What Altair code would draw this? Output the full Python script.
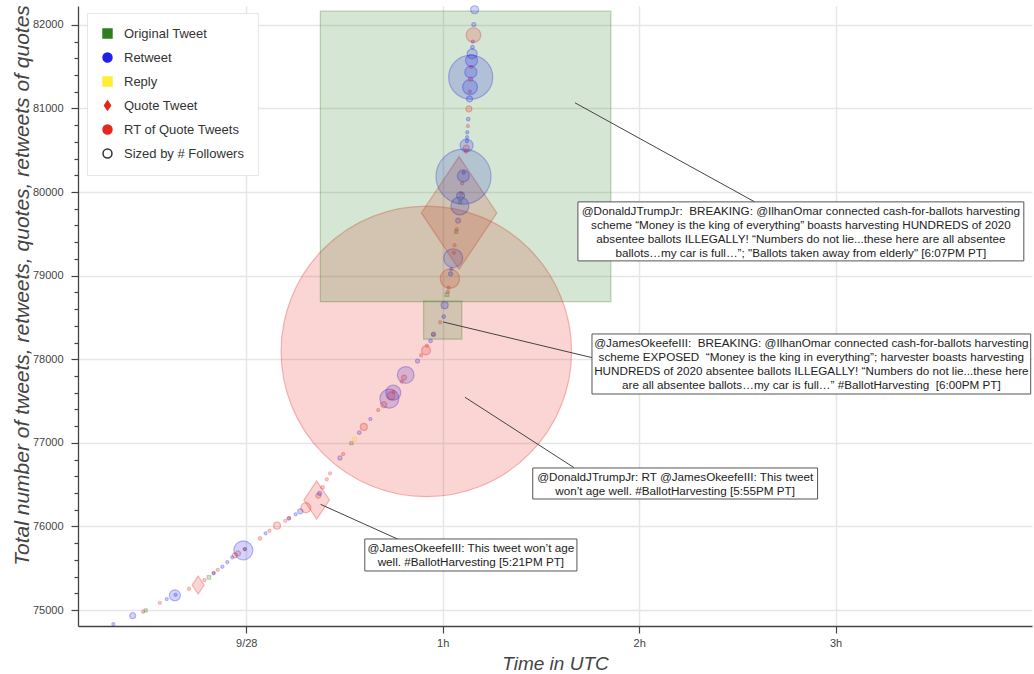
import altair as alt
import pandas as pd

# Tweet activity around the #BallotHarvesting story.
# minutes: minutes after 2020-09-28 00:00 UTC; totals: running count of tweets,
# retweets, quotes and retweets of quotes; kinds: event type code; followers: author's followers.
minutes = [-40.6, -34.7, -31.5, -30.7, -26.4, -24.3, -21.8, -21.6, -17.5, -14.7,
           -12.8, -11.4, -10.0, -9.9, -8.7, -7.3, -5.8, -4.3, -3.5, -2.5,
           -0.9, -0.5, -0.4, 4.2, 5.9, 7.1, 9.4, 11.9, 13.0, 13.1,
           15.1, 16.5, 18.2, 21.5, 22.0, 22.4, 23.3, 24.6, 25.6, 28.6,
           29.6, 32.1, 33.0, 34.5, 35.9, 37.9, 40.3, 42.0, 43.7, 44.2,
           44.9, 45.0, 47.5, 48.2, 48.7, 52.3, 53.4, 55.0, 54.9, 55.2,
           56.3, 57.1, 57.2, 59.2, 60.0, 60.3, 60.6, 61.3, 61.6, 61.8,
           62.2, 62.4, 62.6, 63.2, 63.4, 63.6, 64.1, 64.3, 64.7, 65.0,
           65.25, 65.35, 65.45, 65.65, 65.95, 66.35, 66.3, 66.4, 67.0, 67.1,
           67.2, 67.3, 67.4, 67.45, 67.5, 67.7, 67.8, 68.0, 68.2, 68.3,
           68.35, 68.5, 68.55, 68.6, 68.7, 68.8, 69.0, 69.1, 69.2, 69.4,
           69.5, 69.75]
totals = [74832, 74932, 74980, 74996, 75087, 75132, 75176, 75182, 75255, 75299,
          75359, 75391, 75439, 75445, 75482, 75518, 75574, 75630, 75654, 75678,
          75714, 75726, 75730, 75858, 75918, 75949, 76009, 76068, 76097, 76100,
          76145, 76181, 76224, 76316, 76368, 76396, 76468, 76564, 76636, 76819,
          76867, 76995, 77042, 77121, 77190, 77285, 77393, 77456, 77528, 77561,
          77600, 77610, 77732, 77780, 77812, 77979, 78048, 78093, 78105, 78163,
          78219, 78295, 78300, 78443, 78468, 78510, 78646, 78773, 78809, 78857,
          78964, 79021, 79080, 79208, 79275, 79364, 79523, 79555, 79658, 79750,
          79834, 79878, 79954, 79981, 80106, 80185, 80193, 80233, 80426, 80484,
          80525, 80556, 80608, 80656, 80716, 80791, 80872, 80995, 81114, 81202,
          81254, 81350, 81374, 81434, 81494, 81573, 81653, 81733, 81800, 81877,
          82004, 82180]
kinds = ["B", "B", "R", "O", "R", "B", "B", "B", "R", "Q",
         "R", "O", "B", "R", "R", "B", "B", "B", "R", "R",
         "B", "R", "B", "R", "B", "R", "R", "R", "B", "R",
         "B", "B", "R", "Q", "R", "B", "R", "R", "R", "B",
         "R", "O", "Y", "B", "R", "B", "R", "R", "B", "R",
         "B", "R", "R", "R", "B", "B", "R", "R", "R", "R",
         "B", "R", "B", "R", "O", "B", "B", "O", "R", "R",
         "R", "B", "B", "B", "R", "R", "O", "R", "B", "Q",
         "B", "O", "B", "R", "R", "B", "B", "B", "O", "R",
         "R", "B", "B", "B", "B", "R", "B", "R", "B", "R",
         "B", "R", "B", "B", "R", "B", "B", "B", "B", "R",
         "B", "B"]
followers = [5000, 100000, 5000, 5000, 5000, 5000, 204000, 5000, 5000, 342000,
             5000, 35000, 5000, 5000, 5000, 5000, 5000, 5000, 77000, 77000,
             361000, 5000, 5000, 35000, 5000, 5000, 122000, 5000, 35000, 5000,
             5000, 77000, 184000, 732000, 77000, 51000, 35000, 5000, 5000, 51000,
             5000, 5000, 51000, 35000, 122000, 5000, 5000, 100000, 361000, 143000,
             283000, 5000, 5000, 77000, 316000, 51000, 5000, 5590000, 163000, 5000,
             35000, 35000, 51000, 5000, 732000, 35000, 122000, 35000, 5000, 5000,
             367000, 51000, 5000, 361000, 5000, 5000, 5000, 5000, 77000, 2168000,
             342000, 5000, 143000, 5000, 5000, 1057000, 224000, 5000, 5590000, 5000,
             100000, 243000, 5000, 5000, 5000, 5000, 35000, 100000, 100000, 5000,
             283000, 51000, 845000, 224000, 5000, 224000, 184000, 35000, 5000, 277000,
             51000, 143000]

kind_names = {"O": "Original Tweet", "B": "Retweet", "Y": "Reply",
              "Q": "Quote Tweet", "R": "RT of Quote Tweets"}

type_names = ["Original Tweet", "Retweet", "Reply", "Quote Tweet",
              "RT of Quote Tweets", "Sized by # Followers"]
fill_colors = ["#2e7d1e", "#1f1fe8", "#ffee33", "#e4261c", "#e4261c", "white"]
stroke_colors = ["#2e7d1e", "#1f1fe8", "#ffee33", "#e4261c", "#e4261c", "#333333"]
DIAMOND = "M0,-1L0.67,0L0,1L-0.67,0Z"
shapes = ["square", "circle", "square", DIAMOND, "circle", "circle"]

# Call-out boxes: left/right in minutes, top/bottom in running total
note_x1 = [101.3, 105.6, 87.5, 36.2]
note_x2 = [237.5, 239.6, 174.5, 101.0]
note_top = [79882, 78302, 76699, 75850]
note_bot = [79176, 77584, 76328, 75467]
SP = "\u00a0"
note_text = [
    f"@DonaldJTrumpJr:{SP} BREAKING: @IlhanOmar connected cash-for-ballots harvesting\n"
    "scheme \u201cMoney is the king of everything\u201d boasts harvesting HUNDREDS of 2020\n"
    "absentee ballots ILLEGALLY! \u201cNumbers do not lie...these here are all absentee\n"
    "ballots\u2026my car is full\u2026\u201d; \"Ballots taken away from elderly\" [6:07PM PT]",
    f"@JamesOkeefeIII:{SP} BREAKING: @IlhanOmar connected cash-for-ballots harvesting\n"
    f"scheme EXPOSED{SP} \u201cMoney is the king in everything\u201d; harvester boasts harvesting\n"
    "HUNDREDS of 2020 absentee ballots ILLEGALLY! \u201cNumbers do not lie...these here\n"
    f"are all absentee ballots\u2026my car is full\u2026\u201d #BallotHarvesting{SP} [6:00PM PT]",
    "@DonaldJTrumpJr: RT @JamesOkeefeIII: This tweet\n"
    "won\u2019t age well. #BallotHarvesting [5:55PM PT]",
    "@JamesOkeefeIII: This tweet won\u2019t age\n"
    "well. #BallotHarvesting [5:21PM PT]",
]
# Leader lines from the tweet to its box
lead_x1 = [100.4, 60.1, 66.8, 22.7]
lead_y1 = [81067, 78446, 77545, 76264]
lead_x2 = [155.3, 105.6, 100.1, 46.4]
lead_y2 = [79882, 78019, 76703, 75846]

events = pd.DataFrame({
    "minutes": minutes,
    "total": totals,
    "kind": [kind_names[k] for k in kinds],
    "followers": followers,
})
notes = pd.DataFrame({"x1": note_x1, "x2": note_x2, "top": note_top,
                      "bot": note_bot, "text": note_text})
leads = pd.DataFrame({"x1": lead_x1, "y1": lead_y1, "x2": lead_x2, "y2": lead_y2})

FONT = "Liberation Sans"
x_scale = alt.Scale(domain=[-51.4, 240], nice=False, zero=False)
y_scale = alt.Scale(domain=[74809, 82225], nice=False, zero=False)

major = "datum.value % 1000 === 0"
x_axis = alt.Axis(
    values=[0, 60, 120, 180],
    labelExpr="datum.value == 0 ? '9/28' : (datum.value / 60) + 'h'",
    title="Time in UTC", titleFontStyle="italic", titleFontWeight="normal",
    titleFontSize=19, titleColor="#444444", titleFont=FONT,
    titleX=477, titleY=37, titleBaseline="middle", titleAnchor="middle",
    labelFont=FONT, labelFontSize=11, labelColor="#444444", labelPadding=4,
    tickSize=7, tickColor="#444444", domainColor="#444444", domainWidth=1.3,
    tickWidth=1.2, gridColor="#e6e6e6", gridWidth=1.5, labelFlush=False,
)
y_axis = alt.Axis(
    values=list(range(75000, 82001, 200)),
    labelExpr="datum.value % 1000 === 0 ? format(datum.value, 'd') : ''",
    tickSize={"condition": {"test": major, "value": 7}, "value": 4},
    gridOpacity={"condition": {"test": major, "value": 1}, "value": 0},
    title="Total number of tweets, retweets, quotes, retweets of quotes",
    titleFontStyle="italic", titleFontWeight="normal", titleFontSize=21,
    titleColor="#444444", titleFont=FONT, titleAngle=270,
    titleX=-56, titleY=279, titleBaseline="middle", titleAlign="center",
    labelFont=FONT, labelFontSize=11, labelColor="#444444", labelPadding=8,
    labelOverlap=False, labelFlush=False, tickColor="#444444",
    domainColor="#444444", domainWidth=1.3, tickWidth=1.2,
    gridColor="#e6e6e6", gridWidth=1.5,
)

legend_kw = dict(
    title=None, orient="none", legendX=9, legendY=7, fillColor="white",
    strokeColor="#e6e6e6", padding=14, labelFont=FONT, labelFontSize=13,
    labelColor="#333333", symbolSize=80, symbolStrokeWidth=1.5,
    rowPadding=9, labelOffset=10, symbolOpacity=1, values=type_names,
)

points = alt.Chart(events).mark_point(filled=True, strokeWidth=1.2).encode(
    x=alt.X("minutes:Q", scale=x_scale, axis=x_axis),
    y=alt.Y("total:Q", scale=y_scale, axis=y_axis),
    fill=alt.Fill("kind:N", scale=alt.Scale(domain=type_names, range=fill_colors),
                  legend=alt.Legend(**legend_kw)),
    stroke=alt.Stroke("kind:N", scale=alt.Scale(domain=type_names, range=stroke_colors),
                      legend=alt.Legend(**legend_kw)),
    shape=alt.Shape("kind:N", scale=alt.Scale(domain=type_names, range=shapes),
                    legend=alt.Legend(**legend_kw)),
    size=alt.Size("followers:Q",
                  scale=alt.Scale(type="pow", exponent=2, domain=[0, 6000000],
                                  range=[9, 97220]),
                  legend=None),
    fillOpacity=alt.value(0.27),
    strokeOpacity=alt.value(0.45),
)

lines = alt.Chart(leads).mark_rule(color="#444444", strokeWidth=1).encode(
    x=alt.X("x1:Q", scale=x_scale, axis=x_axis),
    y=alt.Y("y1:Q", scale=y_scale, axis=y_axis),
    x2="x2:Q", y2="y2:Q",
)

boxes = alt.Chart(notes).mark_rect(fill="white", stroke="#555555", strokeWidth=1).encode(
    x=alt.X("x1:Q", scale=x_scale, axis=x_axis),
    x2="x2:Q",
    y=alt.Y("top:Q", scale=y_scale, axis=y_axis),
    y2="bot:Q",
)

texts = alt.Chart(notes).transform_calculate(
    xc="(datum.x1 + datum.x2) / 2"
).mark_text(font=FONT, fontSize=11.7, lineHeight=14, lineBreak="\n",
            align="center", baseline="top", dy=4, color="#222222").encode(
    x=alt.X("xc:Q", scale=x_scale, axis=x_axis),
    y=alt.Y("top:Q", scale=y_scale, axis=y_axis),
    text="text:N",
)

chart = alt.layer(points, lines, boxes, texts).properties(
    width=954, height=620,
    autosize=alt.AutoSizeParams(type="none"),
    padding={"left": 78, "top": 6, "right": 2, "bottom": 48},
    background="white",
).configure_view(stroke=None)

chart.save("out.html", embed_options={"renderer": "svg", "actions": False})
